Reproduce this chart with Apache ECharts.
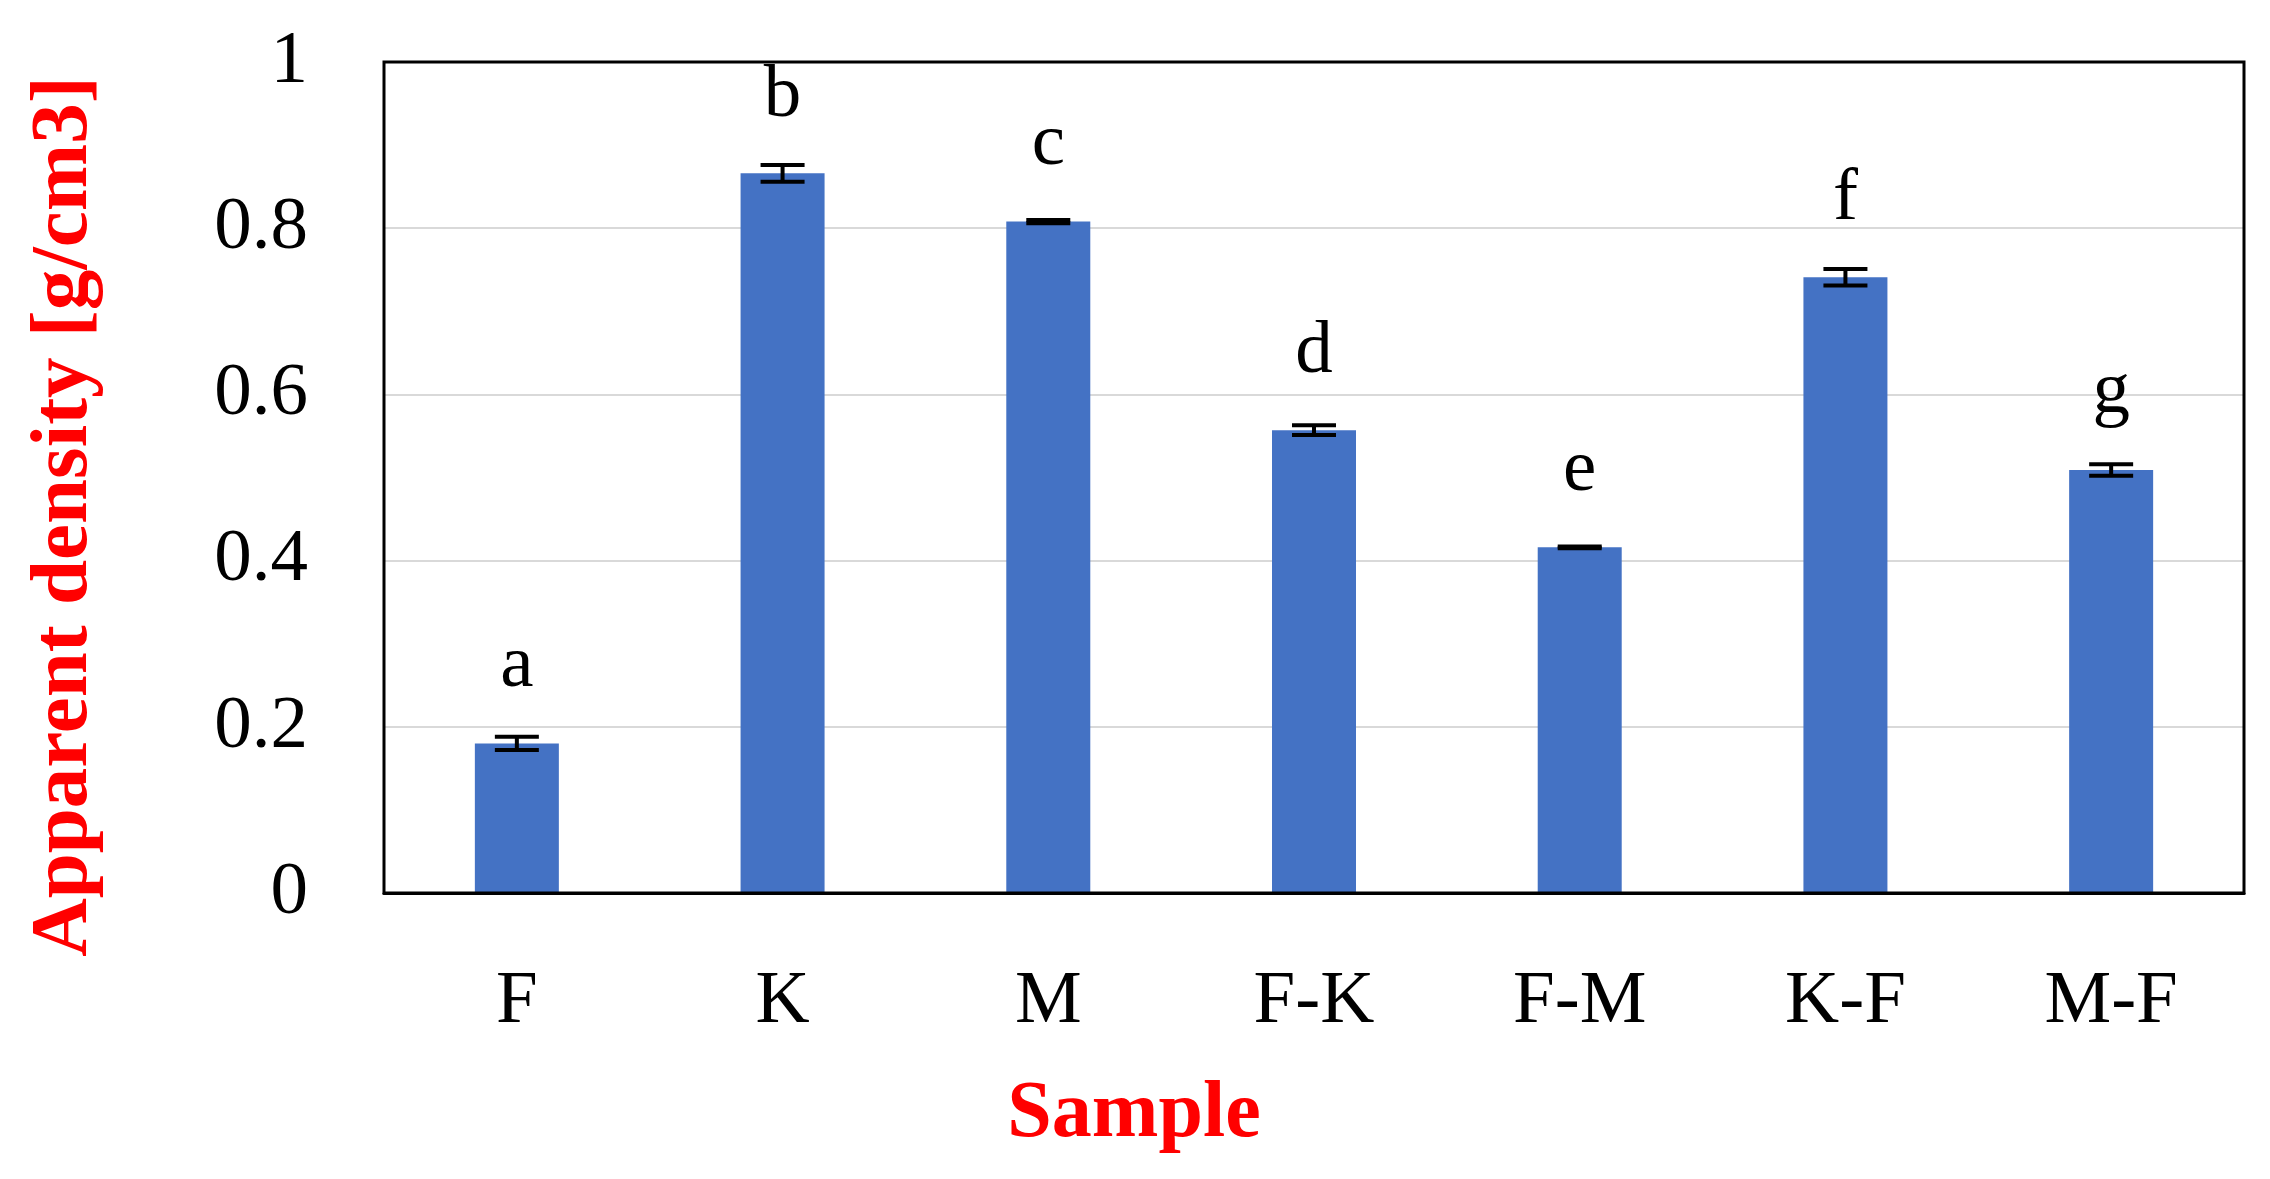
<!DOCTYPE html>
<html>
<head>
<meta charset="utf-8">
<script src="https://cdn.jsdelivr.net/npm/echarts@6/dist/echarts.min.js"></script>
<style>
html,body{margin:0;padding:0;background:#fff;}
#chart{width:2270px;height:1179px;}
</style>
</head>
<body>
<div id="chart"></div>
<script>
const categories = ['F', 'K', 'M', 'F-K', 'F-M', 'K-F', 'M-F'];
const densityValues = [0.180, 0.866, 0.808, 0.557, 0.416, 0.741, 0.509];
const densityErrors = [0.008, 0.010, 0.002, 0.006, 0.001, 0.010, 0.007];
const groupLetters = ['a', 'b', 'c', 'd', 'e', 'f', 'g'];
const yTicks = [0, 0.2, 0.4, 0.6, 0.8, 1];

const FONT = '"Liberation Serif", "DejaVu Serif", serif';
const chart = echarts.init(document.getElementById('chart'));

const errorData = densityValues.map((v, i) => [i, v, densityErrors[i]]);

chart.setOption({
  animation: false,
  backgroundColor: '#fff',
  grid: {
    left: 384, right: 26, top: 62, bottom: 286,
    show: true, borderColor: '#000', borderWidth: 3, backgroundColor: 'transparent', z: 5
  },
  xAxis: {
    type: 'category',
    data: categories,
    name: 'Sample',
    nameLocation: 'middle',
    nameGap: 182,
    nameTextStyle: {
      color: '#ff0000', fontFamily: FONT, fontWeight: 'bold', fontSize: 80,
      padding: [0, 360, 0, 0]
    },
    axisLine: { show: true, lineStyle: { color: '#000', width: 3 } },
    axisTick: { show: false },
    axisLabel: { color: '#000', fontFamily: FONT, fontSize: 75, margin: 72 },
    splitLine: { show: false }
  },
  yAxis: {
    type: 'value',
    min: 0, max: 1, interval: 0.2,
    name: 'Apparent density [g/cm3]',
    nameLocation: 'middle',
    nameGap: 278,
    nameTextStyle: {
      color: '#ff0000', fontFamily: FONT, fontWeight: 'bold', fontSize: 81,
      padding: [0, 78, 0, 0]
    },
    axisLine: { show: false },
    axisTick: { show: false },
    axisLabel: {
      color: '#000', fontFamily: FONT, fontSize: 75, margin: 76,
      formatter: v => {
        const t = yTicks.find(x => Math.abs(x - v) < 1e-9);
        return t === undefined ? '' : String(t);
      }
    },
    splitLine: { show: true, showMaxLine: false, showMinLine: false, lineStyle: { color: '#d9d9d9', width: 2 } }
  },
  series: [
    {
      type: 'bar',
      data: densityValues,
      barWidth: 84,
      itemStyle: { color: '#4472C4' },
      label: {
        show: true,
        position: 'top',
        distance: 40,
        color: '#000',
        fontFamily: FONT,
        fontSize: 75,
        formatter: p => groupLetters[p.dataIndex]
      },
      z: 2
    },
    {
      type: 'custom',
      data: errorData,
      encode: { x: 0, y: 1 },
      z: 3,
      renderItem: (params, api) => {
        const i = api.value(0);
        const v = api.value(1);
        const e = api.value(2);
        const hi = api.coord([i, v + e]);
        const lo = api.coord([i, v - e]);
        const hw = 22;
        const style = { stroke: '#000', lineWidth: 4 };
        return {
          type: 'group',
          children: [
            { type: 'line', shape: { x1: hi[0], y1: hi[1], x2: lo[0], y2: lo[1] }, style },
            { type: 'line', shape: { x1: hi[0] - hw, y1: hi[1], x2: hi[0] + hw, y2: hi[1] }, style },
            { type: 'line', shape: { x1: lo[0] - hw, y1: lo[1], x2: lo[0] + hw, y2: lo[1] }, style }
          ]
        };
      }
    }
  ]
});
</script>
</body>
</html>
